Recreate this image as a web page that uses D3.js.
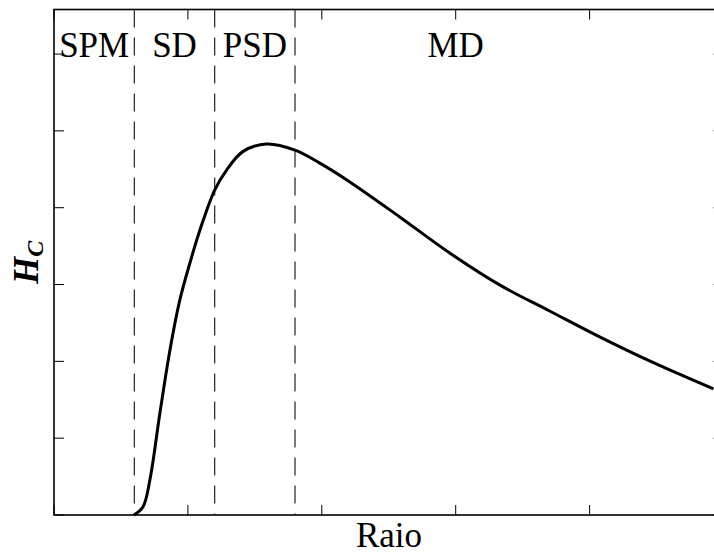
<!DOCTYPE html>
<html>
<head>
<meta charset="utf-8">
<script src="https://cdn.jsdelivr.net/npm/d3@7"></script>
</head>
<body style="margin:0">
<svg id="chart" width="714" height="555"></svg>
<script>
// ---- data ----
const raio = [0.597, 0.664, 0.716, 0.791, 0.866, 0.940, 1.015, 1.090, 1.200, 1.289, 1.410, 1.587, 1.800, 1.985, 2.209, 2.582, 2.955, 3.328, 3.701, 4.075, 4.448, 4.925];
const hc   = [0.000, 0.104, 0.456, 1.328, 2.148, 2.800, 3.280, 3.710, 4.230, 4.490, 4.730, 4.830, 4.750, 4.580, 4.336, 3.880, 3.411, 2.995, 2.656, 2.318, 2.005, 1.641];
const boundaries = [0.6, 1.2, 1.8];
const regionLabels = ["SPM", "SD", "PSD", "MD"];
const regionLabelX = [0.3, 0.9, 1.5, 3.0];
const xTicks = [0, 1, 2, 3, 4, 5];
const yTicks = [0, 1, 2, 3, 4, 5, 6];
const xLabel = "Raio";
const yLabelMain = "H";
const yLabelSub = "C";

// ---- layout ----
const mLeft = 54, mRight = 723.5, mTop = 9.5, mBottom = 515;
const svg = d3.select("#chart");

const x = d3.scaleLinear().domain([0, 5]).range([mLeft, mRight]);
const y = d3.scaleLinear().domain([0, 6.58]).range([mBottom, mTop]);

const tickLen = 10;

// texts first (plain, left-anchored, centred by measurement)
function centredText(label, cx, baseline) {
  const t = svg.append("text")
    .attr("font-size", 35)
    .style("font-family", '"Times New Roman"')
    .attr("y", baseline)
    .text(label);
  const w = t.node().getComputedTextLength();
  t.attr("x", cx - w / 2);
  return t;
}
regionLabels.forEach((lab, i) => centredText(lab, x(regionLabelX[i]), 57));
centredText(xLabel, (mLeft + 724) / 2, 547);

// y label
const yl = svg.append("text")
  .attr("transform", `translate(38, ${(mTop + mBottom) / 2}) rotate(-90)`)
  .attr("text-anchor", "middle")
  .attr("font-size", 35)
  .attr("font-style", "italic")
  .attr("font-weight", "bold")
  .style("font-family", '"Times New Roman"');
yl.append("tspan").text(yLabelMain);
yl.append("tspan").attr("font-size", 24).attr("dy", 5).text(yLabelSub);

// frame
svg.append("rect")
  .attr("x", mLeft).attr("y", mTop)
  .attr("width", mRight - mLeft).attr("height", mBottom - mTop)
  .attr("fill", "none").attr("stroke", "#000").attr("stroke-width", 1.6);

// ticks (inward, on all four sides)
const g = svg.append("g").attr("stroke", "#000").attr("stroke-width", 1);
xTicks.forEach(t => {
  const px = x(t);
  g.append("line").attr("x1", px).attr("x2", px).attr("y1", mBottom).attr("y2", mBottom - tickLen);
  g.append("line").attr("x1", px).attr("x2", px).attr("y1", mTop).attr("y2", mTop + tickLen);
});
yTicks.forEach(t => {
  const py = y(t);
  g.append("line").attr("x1", mLeft).attr("x2", mLeft + tickLen).attr("y1", py).attr("y2", py);
  g.append("line").attr("x1", mRight).attr("x2", mRight - tickLen).attr("y1", py).attr("y2", py);
});

// region boundaries
boundaries.forEach(b => {
  svg.append("line")
    .attr("x1", x(b)).attr("x2", x(b))
    .attr("y1", y(y.domain()[1])).attr("y2", y(0))
    .attr("stroke", "#222").attr("stroke-width", 1.2)
    .attr("stroke-dasharray", "18,10");
});

// curve
const pts = raio.map((r, i) => [r, hc[i]]);
const line = d3.line().x(d => x(d[0])).y(d => y(d[1])).curve(d3.curveCatmullRom.alpha(0.5));
svg.append("path")
  .attr("d", line(pts))
  .attr("fill", "none").attr("stroke", "#000").attr("stroke-width", 3)
  .attr("stroke-linejoin", "round");
</script>
</body>
</html>
